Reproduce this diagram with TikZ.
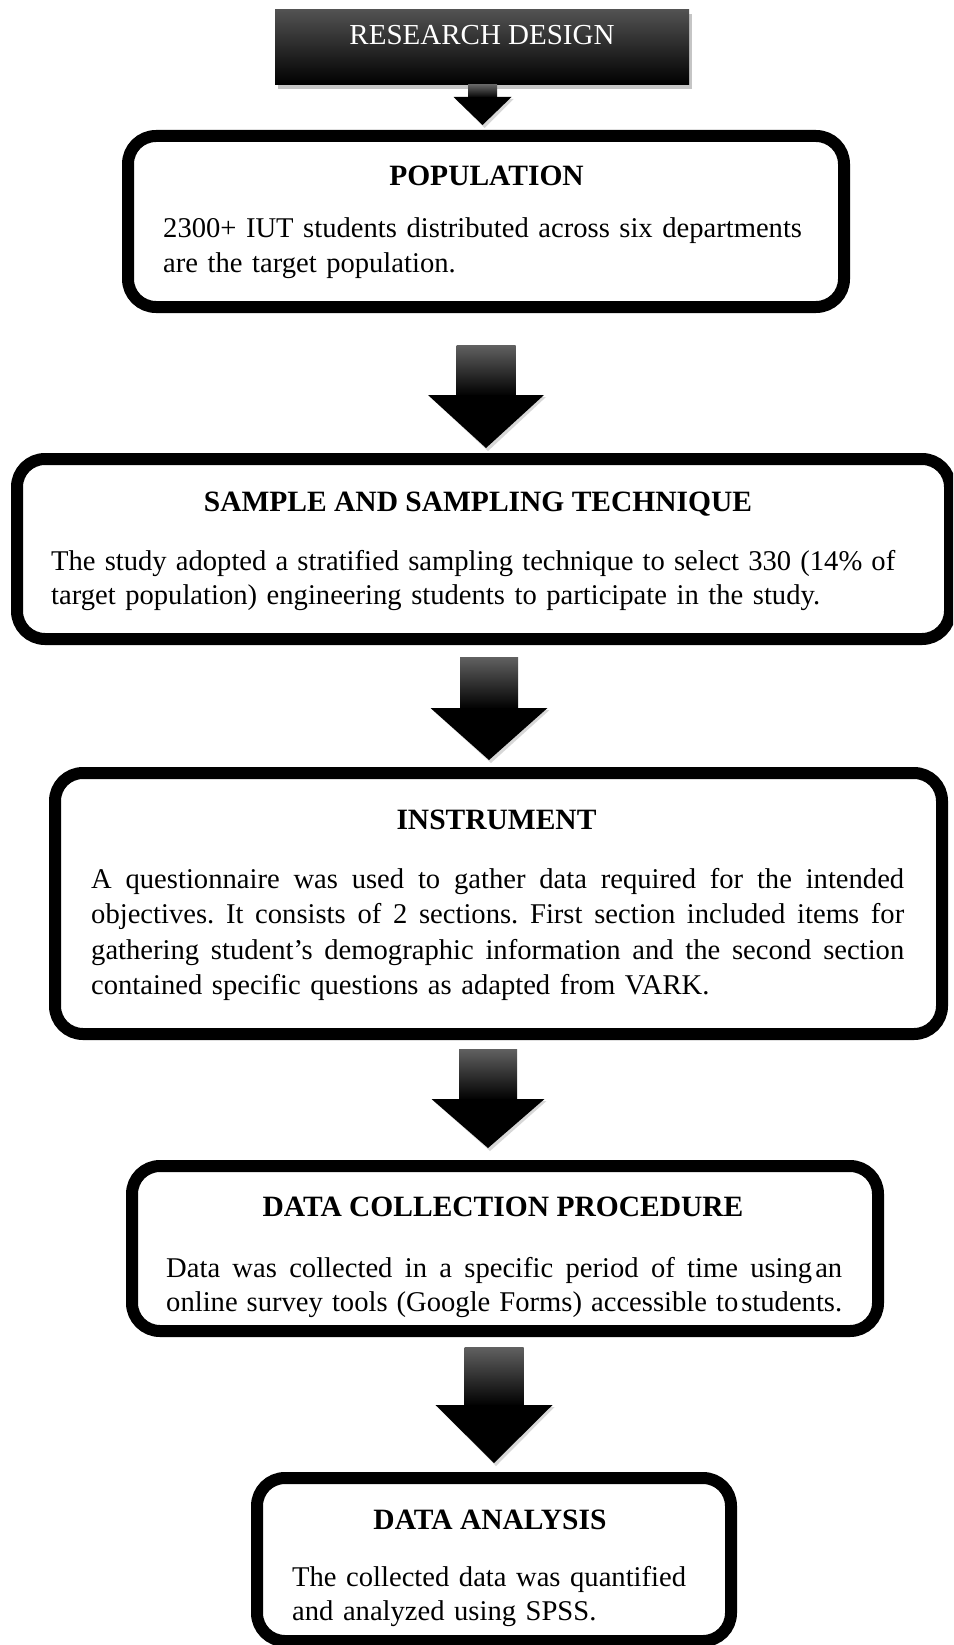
\documentclass[tikz,border=0pt]{standalone}
\usepackage{fontspec}
\setmainfont{Liberation Serif}
\usetikzlibrary{shadows}
\newcommand{\jline}[2]{\makebox[#1pt][s]{\spaceskip=0.25em plus 1fil minus 0.1em\xspaceskip=\spaceskip #2}}
\newcommand{\blockarrow}[6]{% cx, shaft top, head top, tip, shaft half width, head half width
  \fill[black!22, opacity=0.7] (#1-#6+2,#3+2) -- (#1+#6+2,#3+2) -- (#1+2,#4+3) -- cycle;
  \shade[top color=black!62, bottom color=black] (#1-#5,#2) rectangle (#1+#5,#3+1);
  \fill[black] (#1-#6,#3) -- (#1+#6,#3) -- (#1,#4) -- cycle;
}
\tikzset{
  boxnode/.style={draw=black, line width=12pt, rounded corners=28pt, fill=white, inner sep=0pt},
  titletxt/.style={anchor=base, inner sep=0pt, font=\fontsize{29.5}{34.5}\selectfont\bfseries},
  bodytxt/.style={anchor=base west, inner sep=0pt, font=\fontsize{28.6}{34.5}\selectfont, text width=#1, align=left},
  headbox/.style={inner sep=0pt, top color=black!68, middle color=black, bottom color=black,
    drop shadow={opacity=0.45, shadow xshift=3pt, shadow yshift=-4pt}},
}
\begin{document}
\begin{tikzpicture}[x=1pt, y=-1pt]
\clip (0,0) rectangle (953,1645);
\fill[white] (0,0) rectangle (953,1645);

% research design
\node[headbox, minimum width=414pt, minimum height=75pt] (rd) at (482,47.5) {};
\node[anchor=base, inner sep=0pt, text=white, font=\fontsize{29}{34.5}\selectfont] (rdt) at (482,45) {RESEARCH DESIGN};

% boxes
\node[boxnode, minimum width=716pt, minimum height=171pt] (pop) at (486,221.5) {};
\node[boxnode, minimum width=933pt, minimum height=180pt] (smp) at (483.5,549) {};
\node[boxnode, minimum width=887pt, minimum height=261pt] (ins) at (498.5,903.5) {};
\node[boxnode, minimum width=746pt, minimum height=165pt] (dcp) at (505,1248.5) {};
\node[boxnode, minimum width=474pt, minimum height=163pt] (ana) at (494,1559.5) {};

% arrows
\blockarrow{482.5}{85}{97}{125}{14.5}{29}
\blockarrow{486}{345}{395}{448}{29.5}{58}
\blockarrow{489}{657}{708}{760}{29}{58.5}
\blockarrow{488}{1049}{1099}{1148}{29}{56.5}
\blockarrow{494}{1347}{1405}{1463}{29.5}{58.5}

% population
\node[titletxt] (popt) at (486.5,186) {POPULATION};
\node[bodytxt=680pt] (popb) at (163,238) {2300+ IUT students distributed across six departments\\ are the target population.};

% sample
\node[titletxt] (smpt) at (478,511) {SAMPLE AND SAMPLING TECHNIQUE};
\node[bodytxt=870pt] (smpb) at (51,570) {\jline{844}{The study adopted a stratified sampling technique to select 330 (14\% of}\\ target population) engineering students to participate in the study.};

% instrument
\node[titletxt] (inst) at (496.5,829) {INSTRUMENT};
\node[bodytxt=840pt, font=\fontsize{28.6}{35.5}\selectfont] (insb) at (91,888) {\jline{813}{A questionnaire was used to gather data required for the intended}\\
\jline{813}{objectives. It consists of 2 sections. First section included items for}\\
\jline{813}{gathering student’s demographic information and the second section}\\
contained specific questions as adapted from VARK.};

% data collection
\node[titletxt] (dcpt) at (503,1216) {DATA COLLECTION PROCEDURE};
\node[bodytxt=700pt] (dcpb) at (166,1277) {\jline{676}{Data was collected in a specific period of time \mbox{using\kern3pt an}}\\
\jline{676}{online survey tools (Google Forms) accessible \mbox{to\kern3pt students.}}};

% analysis
\node[titletxt] (anat) at (490,1529) {DATA ANALYSIS};
\node[bodytxt=440pt] (anab) at (292,1586) {The collected data was quantified\\ and analyzed using SPSS.};
\end{tikzpicture}
\end{document}
